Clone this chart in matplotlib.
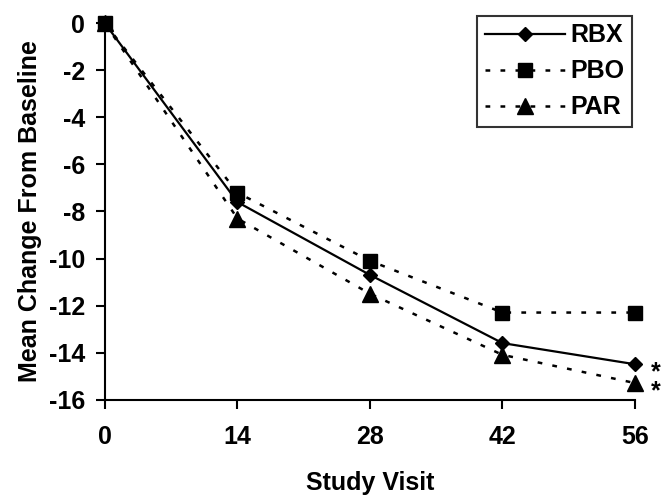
import matplotlib
matplotlib.use("Agg")
import matplotlib.pyplot as plt

# Data
visits = [0, 14, 28, 42, 56]
rbx = [0, -7.6, -10.7, -13.6, -14.5]
pbo = [0, -7.2, -10.1, -12.3, -12.3]
par = [0, -8.3, -11.5, -14.1, -15.3]
y_ticks = [0, -2, -4, -6, -8, -10, -12, -14, -16]
# significance markers next to the last visit (RBX and PAR)
stars_x = 56
stars_y = [-14.5, -15.3]

plt.rcParams["font.family"] = ["Liberation Sans", "DejaVu Sans"]
plt.rcParams["font.weight"] = "bold"
plt.rcParams["axes.labelweight"] = "bold"
plt.rcParams["axes.unicode_minus"] = False

fig = plt.figure(figsize=(6.62, 5.0), dpi=100)
ax = fig.add_axes([0.1586, 0.201, 0.8006, 0.752])

dot = (0, (1.9, 4.1))
ax.plot(visits, pbo, color="black", linestyle=dot, linewidth=1.8, marker="s",
        markersize=9.5, label="PBO", clip_on=False, zorder=3)
ax.plot(visits, par, color="black", linestyle=dot, linewidth=1.8, marker="^",
        markersize=11, label="PAR", clip_on=False, zorder=3)
ax.plot(visits, rbx, color="black", linestyle="-", linewidth=1.6, marker="D",
        markersize=7.2, label="RBX", clip_on=False, zorder=4)

# both stars as one text block so they sit tight like the original
ax.annotate("*\n*", (stars_x, sum(stars_y) / 2), xytext=(11.5, -6),
            textcoords="offset points", fontsize=18, fontweight="bold",
            ha="left", va="center", linespacing=0.72, annotation_clip=False)

ax.set_xlim(0, 56)
ax.set_ylim(-16, 0)
ax.set_xticks(visits)
ax.set_yticks(y_ticks)
ax.tick_params(axis="both", direction="out", length=6.5, width=1.5, labelsize=18)
ax.tick_params(axis="y", pad=8)
ax.tick_params(axis="x", pad=12)
for lab in ax.get_xticklabels() + ax.get_yticklabels():
    lab.set_fontweight("bold")

for side in ["top", "right"]:
    ax.spines[side].set_visible(False)
for side in ["left", "bottom"]:
    ax.spines[side].set_linewidth(1.5)

ax.set_xlabel("Study Visit", fontsize=18, fontweight="bold", labelpad=16)
ax.set_ylabel("Mean Change From Baseline", fontsize=18, fontweight="bold", labelpad=5)

handles, labels = ax.get_legend_handles_labels()
order = [labels.index(n) for n in ["RBX", "PBO", "PAR"]]
leg = ax.legend([handles[i] for i in order], [labels[i] for i in order],
                loc="upper right", bbox_to_anchor=(632 / 662, 1 - 16 / 500),
                bbox_transform=fig.transFigure, borderaxespad=0,
                frameon=True, fancybox=False, edgecolor="black",
                handlelength=3.2, handletextpad=0.24, borderpad=0.3,
                labelspacing=0.48, prop={"weight": "bold", "size": 18})
leg.get_frame().set_linewidth(1.5)

fig.savefig("out.png", dpi=100)
